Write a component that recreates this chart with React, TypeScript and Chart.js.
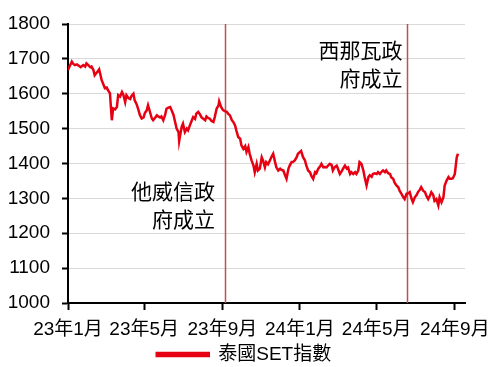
import React, { useEffect, useRef } from "react";
import { Chart, registerables } from "chart.js";

Chart.register(...registerables);

// Days since 2023-01-01
const dayIndex = [
  0, 3, 6, 8, 11, 14, 17, 20, 24, 27, 29, 32, 35, 37, 40, 42, 46, 49, 53, 55,
  58, 61, 63, 66, 69, 71, 74, 77, 79, 82, 85, 87, 90, 92, 95, 98, 100, 103, 105, 108,
  111, 113, 116, 119, 121, 124, 126, 132, 134, 140, 142, 145, 147, 150, 153, 155, 158, 161, 163, 166,
  168, 171, 174, 175, 177, 179, 181, 184, 187, 189, 192, 195, 197, 200, 202, 205, 208, 210, 213, 216,
  218, 221, 223, 226, 229, 231, 234, 237, 238, 241, 244, 247, 250, 252, 255, 258, 260, 263, 265, 268,
  271, 273, 276, 279, 281, 284, 286, 289, 292, 294, 297, 299, 302, 305, 307, 310, 312, 315, 318, 320,
  323, 326, 328, 331, 334, 336, 339, 341, 344, 347, 349, 352, 354, 357, 360, 362, 367, 370, 373, 375,
  378, 381, 383, 386, 389, 391, 394, 397, 399, 402, 404, 407, 410, 412, 415, 417, 420, 423, 425, 428,
  431, 433, 436, 439, 441, 444, 446, 449, 452, 454, 457, 459, 462, 465, 467, 470, 473, 475, 478, 480,
  483, 486, 488, 491, 494, 496, 499, 501, 504, 507, 509, 512, 514, 517, 520, 522, 525, 528, 530, 533,
  536, 538, 541, 543, 546, 549, 551, 554, 556, 559, 562, 564, 567, 570, 572, 575, 577, 580, 583, 585,
  588, 591, 593, 596, 599, 601, 604, 606, 609, 612, 614,
];

const setIndex = [
  1668, 1680, 1692, 1686, 1682, 1684, 1680, 1676, 1682, 1678, 1687, 1682, 1676, 1678, 1668, 1653, 1662, 1670, 1639, 1630,
  1616, 1618, 1610, 1602, 1524, 1558, 1555, 1562, 1596, 1592, 1605, 1598, 1576, 1596, 1588, 1585, 1594, 1600, 1581, 1570,
  1553, 1540, 1529, 1532, 1545, 1553, 1567, 1529, 1524, 1538, 1535, 1532, 1535, 1524, 1540, 1557, 1560, 1562, 1553, 1540,
  1524, 1500, 1490, 1464, 1485, 1505, 1514, 1490, 1500, 1495, 1510, 1524, 1533, 1528, 1543, 1548, 1540, 1533, 1528, 1524,
  1535, 1530, 1529, 1522, 1519, 1533, 1557, 1567, 1578, 1562, 1553, 1550, 1548, 1543, 1538, 1524, 1520, 1509, 1495, 1476,
  1471, 1452, 1442, 1450, 1433, 1447, 1428, 1409, 1394, 1375, 1399, 1380, 1385, 1418, 1409, 1389, 1404, 1398, 1409, 1418,
  1428, 1404, 1389, 1380, 1385, 1382, 1380, 1370, 1356, 1385, 1394, 1404, 1404, 1409, 1418, 1428, 1436, 1418, 1409, 1395,
  1380, 1375, 1365, 1356, 1375, 1372, 1385, 1392, 1399, 1389, 1390, 1389, 1395, 1399, 1396, 1380, 1390, 1394, 1385, 1370,
  1378, 1385, 1394, 1385, 1388, 1370, 1375, 1370, 1375, 1370, 1380, 1404, 1399, 1380, 1361, 1337, 1361, 1366, 1362, 1370,
  1372, 1370, 1375, 1370, 1377, 1380, 1375, 1380, 1372, 1370, 1360, 1356, 1346, 1337, 1332, 1322, 1313, 1303, 1298, 1313,
  1315, 1318, 1298, 1289, 1303, 1310, 1318, 1325, 1332, 1322, 1318, 1308, 1298, 1308, 1318, 1310, 1293, 1298, 1280, 1303,
  1289, 1303, 1337, 1351, 1361, 1356, 1356, 1358, 1370, 1418, 1428,
];

const seriesName = "泰國SET指數";

const tickDays = [0, 120, 243, 365, 486, 609];
const tickLabels = ["23年1月", "23年5月", "23年9月", "24年1月", "24年5月", "24年9月"];

const eventDays = [247, 533];
const eventLabels = [
  ["他威信政", "府成立"],
  ["西那瓦政", "府成立"],
];
const eventLabelValue = [1321, 1725];
const eventLabelGap = [10, 4];

const FONT = "'Liberation Sans', Arial, 'Noto Sans CJK TC', sans-serif";

const eventPlugin = {
  id: "eventLines",
  beforeDatasetsDraw(chart: any) {
    const { ctx, chartArea, scales } = chart;
    const x = scales.x;
    ctx.save();
    eventDays.forEach((d) => {
      const px = Math.round(x.getPixelForValue(d)) + 0.5;
      ctx.strokeStyle = "#c0504d";
      ctx.lineWidth = 1.5;
      ctx.beginPath();
      ctx.moveTo(px, chartArea.top);
      ctx.lineTo(px, chartArea.bottom);
      ctx.stroke();
    });
    ctx.restore();
  },
  afterDatasetsDraw(chart: any) {
    const { ctx, scales } = chart;
    const x = scales.x;
    const y = scales.y;
    ctx.save();
    ctx.font = "21px 'Noto Sans CJK TC', sans-serif";
    ctx.fillStyle = "#000";
    ctx.textAlign = "right";
    ctx.textBaseline = "middle";
    eventDays.forEach((d, i) => {
      const px = x.getPixelForValue(d);
      const py = y.getPixelForValue(eventLabelValue[i]);
      eventLabels[i].forEach((line, j) => {
        ctx.fillText(line, px - eventLabelGap[i], py + j * 28);
      });
    });
    ctx.restore();
  },
};

export default function App() {
  const ref = useRef<HTMLCanvasElement>(null);

  useEffect(() => {
    document.body.style.margin = "0";
    const canvas = ref.current!;
    const chart = new Chart(canvas, {
      type: "line",
      data: {
        datasets: [
          {
            label: seriesName,
            data: dayIndex.map((d, i) => ({ x: d, y: setIndex[i] })),
            borderColor: "#e60012",
            backgroundColor: "#e60012",
            borderWidth: 2.5,
            pointRadius: 0,
            tension: 0,
          },
        ],
      },
      options: {
        animation: false,
        responsive: false,
        maintainAspectRatio: false,
        layout: { padding: { top: 24, right: 0, left: 0, bottom: -7 } },
        plugins: {
          legend: {
            position: "bottom",
            labels: {
              boxWidth: 52,
              boxHeight: 3,
              padding: 4,
              color: "#000",
              font: { family: FONT, size: 19 },
            },
          },
          tooltip: { enabled: false },
        },
        scales: {
          x: {
            type: "linear",
            min: 0,
            max: 625,
            afterBuildTicks: (s: any) => {
              s.ticks = tickDays.map((v) => ({ value: v }));
            },
            ticks: {
              autoSkip: false,
              maxRotation: 0,
              minRotation: 0,
              color: "#000",
              padding: 8,
              font: { family: FONT, size: 19 },
              callback: (_v: any, i: number) => tickLabels[i],
            },
            grid: {
              drawOnChartArea: false,
              drawTicks: true,
              tickLength: 7,
              tickColor: "#000",
              tickWidth: 2,
            },
            border: { color: "#000", width: 2 },
            afterFit: (s: any) => {
              s.paddingLeft = 0;
              s.paddingRight = 23;
              s.height = 38;
            },
          },
          y: {
            min: 1000,
            max: 1800,
            ticks: {
              stepSize: 100,
              color: "#000",
              padding: 12,
              font: { family: FONT, size: 19 },
              callback: (v: any) => String(v),
            },
            grid: {
              color: "#d9d9d9",
              lineWidth: 1,
              drawTicks: true,
              tickLength: 6,
              tickColor: "#000",
              tickWidth: 2,
            },
            border: { color: "#000", width: 2 },
            afterFit: (s: any) => {
              s.width = 68;
            },
          },
        },
      },
      plugins: [eventPlugin],
    });
    return () => chart.destroy();
  }, []);

  return (
    <div style={{ width: 488, height: 367 }}>
      <canvas ref={ref} width={488} height={367} style={{ display: "block" }} />
    </div>
  );
}
